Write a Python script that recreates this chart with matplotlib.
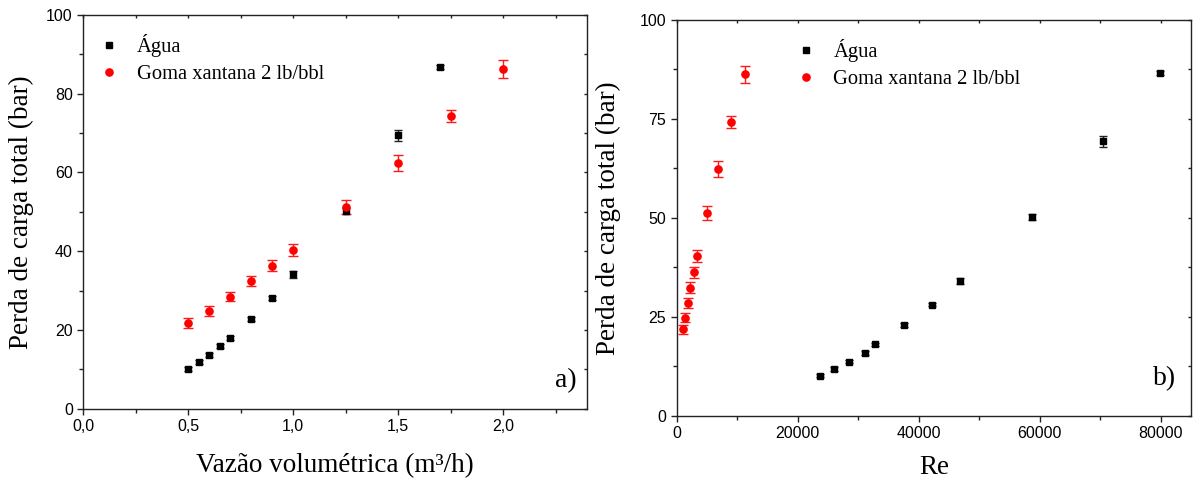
import matplotlib
matplotlib.use("Agg")
import matplotlib.pyplot as plt
from matplotlib.lines import Line2D
from matplotlib.ticker import MultipleLocator, FuncFormatter

# --- Dados experimentais -------------------------------------------------
vazao_agua = [0.5, 0.55, 0.6, 0.65, 0.7, 0.8, 0.9, 1.0, 1.25, 1.5, 1.7]
re_agua = [23700, 26000, 28450, 31100, 32800, 37500, 42200, 46900, 58700, 70400, 79800]
perda_agua = [10.1, 11.9, 13.7, 15.9, 18.0, 22.9, 28.1, 34.1, 50.3, 69.4, 86.7]
erro_agua = [0.4, 0.5, 0.5, 0.5, 0.5, 0.5, 0.5, 0.8, 0.8, 1.4, 0.5]

vazao_goma = [0.5, 0.6, 0.7, 0.8, 0.9, 1.0, 1.25, 1.5, 1.75, 2.0]
re_goma = [1000, 1400, 1800, 2240, 2800, 3400, 4980, 6850, 8930, 11350]
perda_goma = [21.8, 24.8, 28.5, 32.4, 36.3, 40.4, 51.2, 62.4, 74.3, 86.3]
erro_goma = [1.2, 1.2, 1.2, 1.3, 1.4, 1.5, 1.8, 2.0, 1.5, 2.2]

rotulo_agua = "Água"
rotulo_goma = "Goma xantana 2 lb/bbl"
rotulo_y = "Perda de carga total (bar)"

SERIF = ["Liberation Serif", "DejaVu Serif"]
SANS = ["Liberation Sans", "DejaVu Sans"]

fig = plt.figure(figsize=(11.93, 4.83), dpi=100)
ax1 = fig.add_axes([0.0698, 0.1538, 0.4224, 0.8151])
ax2 = fig.add_axes([0.5672, 0.1393, 0.4311, 0.8193])


def desenha(ax, x_agua, x_goma):
    ax.errorbar(x_agua, perda_agua, yerr=erro_agua, fmt="s", color="black",
                ms=4, ecolor="#222222", elinewidth=1.0, capsize=3.2, capthick=1.0,
                zorder=3)
    ax.errorbar(x_goma, perda_goma, yerr=erro_goma, fmt="o", color="#ff0000",
                ms=5.2, ecolor="#ff1a1a", elinewidth=1.0, capsize=3.6, capthick=1.0,
                zorder=3)


def estilo(ax):
    for s in ax.spines.values():
        s.set_linewidth(1.0)
        s.set_color("#222222")
    ax.tick_params(which="both", direction="out", bottom=True, left=True,
                   top=True, right=True, labeltop=False, labelright=False,
                   width=1.0, color="#222222")
    ax.tick_params(which="major", length=4.5, labelsize=11.5, pad=3)
    ax.tick_params(which="minor", length=2.6)
    for lab in ax.get_xticklabels() + ax.get_yticklabels():
        lab.set_family(SANS)
    # marcas internas discretas nos eixos superior e direito
    for t in ax.xaxis.get_major_ticks() + ax.xaxis.get_minor_ticks():
        t.tick2line.set_marker(3)   # para baixo (interna)
        t.tick2line.set_markersize(2.2)
        t.tick2line.set_color("#888888")
    for t in ax.yaxis.get_major_ticks() + ax.yaxis.get_minor_ticks():
        t.tick2line.set_marker(0)   # para a esquerda (interna)
        t.tick2line.set_markersize(2.2)
        t.tick2line.set_color("#888888")


def legenda(ax, anchor):
    h = [Line2D([], [], ls="none", marker="s", color="black", ms=4),
         Line2D([], [], ls="none", marker="o", color="#ff0000", ms=5.2)]
    leg = ax.legend(h, [rotulo_agua, rotulo_goma], loc="upper left",
                    bbox_to_anchor=anchor, frameon=False, handlelength=1.0,
                    handletextpad=0.85, labelspacing=0.35, borderaxespad=0,
                    prop={"family": SERIF, "size": 14.8})
    return leg


# --- Painel a) -----------------------------------------------------------
desenha(ax1, vazao_agua, vazao_goma)
ax1.set_xlim(0, 2.4)
ax1.set_ylim(0, 100)
ax1.xaxis.set_major_locator(MultipleLocator(0.5))
ax1.xaxis.set_minor_locator(MultipleLocator(0.25))
ax1.yaxis.set_major_locator(MultipleLocator(20))
ax1.yaxis.set_minor_locator(MultipleLocator(10))
ax1.xaxis.set_major_formatter(FuncFormatter(lambda v, p: f"{v:.1f}".replace(".", ",")))
estilo(ax1)
ax1.set_xlabel("Vazão volumétrica (m³/h)", family=SERIF, fontsize=19.5)
ax1.set_ylabel(rotulo_y, family=SERIF, fontsize=19.5)
ax1.xaxis.set_label_coords(0.5, -0.1455)
ax1.xaxis.label.set_va("center")
ax1.yaxis.set_label_coords(-0.122, 0.5)
ax1.yaxis.label.set_va("center")
legenda(ax1, (0.015, 0.972))
ax1.text(0.98, 0.055, "a)", transform=ax1.transAxes, ha="right", va="baseline",
         family=SERIF, fontsize=20)

# --- Painel b) -----------------------------------------------------------
desenha(ax2, re_agua, re_goma)
ax2.set_xlim(0, 85000)
ax2.set_ylim(0, 100)
ax2.xaxis.set_major_locator(MultipleLocator(20000))
ax2.xaxis.set_minor_locator(MultipleLocator(10000))
ax2.yaxis.set_major_locator(MultipleLocator(25))
ax2.yaxis.set_minor_locator(MultipleLocator(12.5))
ax2.xaxis.set_major_formatter(FuncFormatter(lambda v, p: f"{int(v)}"))
estilo(ax2)
ax2.set_xlabel("Re", family=SERIF, fontsize=19.5)
ax2.set_ylabel(rotulo_y, family=SERIF, fontsize=19.5)
ax2.xaxis.set_label_coords(0.5, -0.132)
ax2.xaxis.label.set_va("center")
ax2.yaxis.set_label_coords(-0.1336, 0.5)
ax2.yaxis.label.set_va("center")
legenda(ax2, (0.215, 0.972))
ax2.text(0.972, 0.078, "b)", transform=ax2.transAxes, ha="right", va="baseline",
         family=SERIF, fontsize=20)

fig.savefig("out.png", dpi=100)
